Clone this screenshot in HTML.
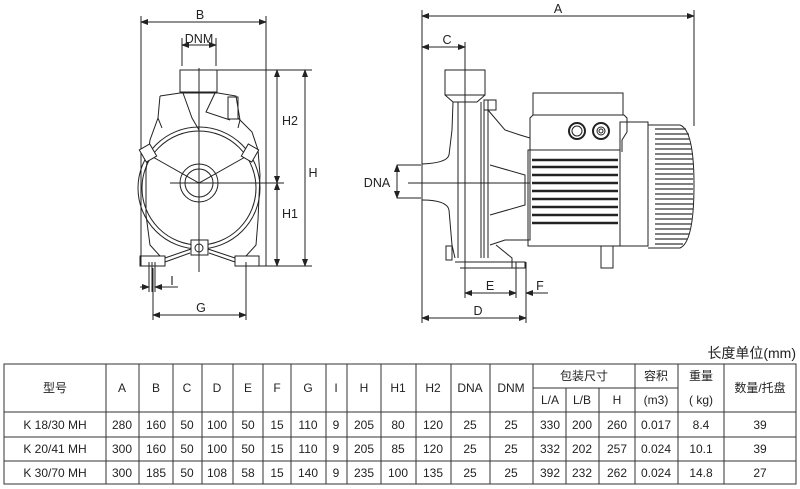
<!DOCTYPE html>
<html><head><meta charset="utf-8"><style>
body{margin:0;background:#fff;}
svg{display:block}
text{font-family:"Liberation Sans","Noto Sans CJK SC",sans-serif;fill:#222}
</style></head><body>
<svg width="800" height="489" viewBox="0 0 800 489" xmlns="http://www.w3.org/2000/svg">
<defs>
<marker id="ar" markerWidth="8" markerHeight="6" refX="7" refY="3" orient="auto-start-reverse" markerUnits="userSpaceOnUse"><path d="M0,0 L8,3 L0,6 z" fill="#222"/></marker>
</defs>
<g stroke="#222" stroke-width="1" fill="none">
<!-- LEFT VIEW -->
<line x1="141" y1="16" x2="141" y2="266"/>
<line x1="266" y1="16" x2="266" y2="266"/>
<line x1="141" y1="22" x2="266" y2="22" marker-start="url(#ar)" marker-end="url(#ar)"/>
<line x1="182" y1="38" x2="182" y2="66"/>
<line x1="216" y1="38" x2="216" y2="66"/>
<line x1="182" y1="45" x2="216" y2="45" marker-start="url(#ar)" marker-end="url(#ar)"/>
<rect x="180" y="70" width="37" height="22"/>
<path d="M160,96 L180,93 L218,93 L236,96 L240,120 L238,128"/>
<path d="M160,96 L158,118 L162,128"/>
<path d="M183,93 L192,118 L199,130 M215,93 L206,112 L230,120"/>
<rect x="228" y="97" width="10" height="22"/>
<path d="M158,118 L150,140 L146,170 L146,215 L150,245 L160,256 M238,118 L252,132 L258,150 L260,175 L258,220 L256,245 L246,256"/>
<circle cx="199" cy="188" r="61"/>
<circle cx="199" cy="188" r="57"/>
<circle cx="199" cy="183" r="19"/>
<circle cx="199" cy="183" r="14"/>
<path d="M144,152 L199,183 L254,152"/>
<rect x="142" y="146" width="12" height="14" transform="rotate(-30 148 153)" fill="#fff"/>
<rect x="244" y="146" width="12" height="14" transform="rotate(30 250 153)" fill="#fff"/>
<rect x="191" y="240" width="17" height="15" fill="#fff"/>
<circle cx="199" cy="248" r="4"/>
<path d="M165,258 L191,249 M208,249 L235,258 M165,262 L190,253 M209,253 L235,262"/>
<rect x="140" y="256" width="25" height="10"/>
<rect x="235" y="256" width="24" height="10"/>
<line x1="199" y1="68" x2="199" y2="272"/>
<line x1="170" y1="183" x2="284" y2="183"/>
<line x1="217" y1="70" x2="312" y2="70"/>
<line x1="258" y1="266" x2="312" y2="266"/>
<line x1="277" y1="70" x2="277" y2="183" marker-start="url(#ar)" marker-end="url(#ar)"/>
<line x1="277" y1="183" x2="277" y2="266" marker-start="url(#ar)" marker-end="url(#ar)"/>
<line x1="305" y1="70" x2="305" y2="266" marker-start="url(#ar)" marker-end="url(#ar)"/>
<line x1="149" y1="262" x2="149" y2="292"/><line x1="152" y1="262" x2="152" y2="292"/><line x1="155" y1="262" x2="155" y2="292"/>
<line x1="140" y1="287" x2="149" y2="287" marker-end="url(#ar)"/>
<line x1="178" y1="287" x2="155" y2="287" marker-end="url(#ar)"/>
<line x1="153" y1="268" x2="153" y2="320"/>
<line x1="246" y1="262" x2="246" y2="320"/>
<line x1="153" y1="315" x2="246" y2="315" marker-start="url(#ar)" marker-end="url(#ar)"/>

<!-- RIGHT VIEW -->
<line x1="422" y1="10" x2="422" y2="323"/>
<line x1="694" y1="10" x2="694" y2="126"/>
<line x1="422" y1="16" x2="694" y2="16" marker-start="url(#ar)" marker-end="url(#ar)"/>
<line x1="465" y1="42" x2="465" y2="102"/>
<line x1="422" y1="47" x2="465" y2="47" marker-start="url(#ar)" marker-end="url(#ar)"/>
<rect x="445" y="70" width="40" height="25"/>
<path d="M445,95 L453,102 L477,102 L485,95"/>
<path d="M453,102 L452,130 L449,155 Q447,163 422,164 M422,200 Q447,200 449,210 L452,245 L455,258"/>
<path d="M458,102 L458,258 M465,102 L465,258 M481,102 L481,258 M484,102 L484,258 M488,100 L488,258"/>
<rect x="484" y="100" width="12" height="10"/>
<rect x="446" y="246" width="6" height="14"/>
<path d="M488,110 L505,130 L520,135 L530,138 L530,240 L505,240 L490,245"/>
<path d="M490,165 L525,175 L525,205 L490,215"/>
<path d="M496,245 L512,258 L512,268 M455,262 L525,262 L525,268 L460,268"/>
<line x1="408" y1="183" x2="530" y2="183"/>
<!-- motor -->
<rect x="533" y="93" width="90" height="22"/>
<path d="M530,152 L530,118 L533,115 L624,115 L627,118 L627,132 L622,140 L622,152"/>
<circle cx="577" cy="131" r="8" stroke-width="2"/><circle cx="577" cy="131" r="5"/>
<circle cx="601" cy="131" r="8" stroke-width="2"/><circle cx="601" cy="131" r="4"/><circle cx="601" cy="131" r="2"/>
<rect x="528" y="150" width="92" height="96"/>
<rect x="620" y="122" width="28" height="124"/>
<path d="M648,125 L680,125 Q694,130 694,185 Q694,242 680,248 L648,248"/>
<rect x="601" y="246" width="12" height="22"/>
<line x1="397" y1="165" x2="421" y2="165"/>
<line x1="397" y1="198" x2="421" y2="198"/>
<line x1="397" y1="165" x2="397" y2="198" marker-start="url(#ar)" marker-end="url(#ar)"/>
<line x1="516" y1="262" x2="516" y2="298"/>
<line x1="526" y1="262" x2="526" y2="323"/>
<line x1="465" y1="258" x2="465" y2="298"/>
<line x1="465" y1="293" x2="516" y2="293" marker-start="url(#ar)" marker-end="url(#ar)"/>
<line x1="548" y1="293" x2="526" y2="293" marker-end="url(#ar)"/>
<line x1="422" y1="318" x2="526" y2="318" marker-start="url(#ar)" marker-end="url(#ar)"/>
</g>
<g stroke="#222" stroke-width="2.4">
<line x1="532" y1="160" x2="618" y2="160"/><line x1="532" y1="167" x2="618" y2="167"/>
<line x1="532" y1="175" x2="618" y2="175"/><line x1="532" y1="183" x2="618" y2="183"/>
<line x1="532" y1="191" x2="618" y2="191"/><line x1="532" y1="199" x2="618" y2="199"/>
<line x1="532" y1="207" x2="618" y2="207"/><line x1="532" y1="215" x2="618" y2="215"/>
<line x1="532" y1="223" x2="618" y2="223"/>
</g>
<g stroke="#333" stroke-width="1.3">
<line x1="655" y1="129" x2="686" y2="129"/><line x1="655" y1="134" x2="689" y2="134"/><line x1="655" y1="139" x2="690" y2="139"/>
<line x1="655" y1="144" x2="691" y2="144"/><line x1="655" y1="149" x2="692" y2="149"/><line x1="655" y1="154" x2="692" y2="154"/>
<line x1="655" y1="159" x2="693" y2="159"/><line x1="655" y1="164" x2="693" y2="164"/><line x1="655" y1="169" x2="693" y2="169"/>
<line x1="655" y1="174" x2="693" y2="174"/><line x1="655" y1="179" x2="693" y2="179"/><line x1="655" y1="184" x2="693" y2="184"/>
<line x1="655" y1="189" x2="693" y2="189"/><line x1="655" y1="194" x2="693" y2="194"/><line x1="655" y1="199" x2="693" y2="199"/>
<line x1="655" y1="204" x2="693" y2="204"/><line x1="655" y1="209" x2="693" y2="209"/><line x1="655" y1="214" x2="692" y2="214"/>
<line x1="655" y1="219" x2="692" y2="219"/><line x1="655" y1="224" x2="691" y2="224"/><line x1="655" y1="229" x2="690" y2="229"/>
<line x1="655" y1="234" x2="689" y2="234"/><line x1="655" y1="239" x2="687" y2="239"/><line x1="655" y1="244" x2="683" y2="244"/>
</g>
<g font-size="12.5" text-anchor="middle">
<text x="200" y="19">B</text>
<text x="199" y="43">DNM</text>
<text x="290" y="125">H2</text>
<text x="290" y="218">H1</text>
<text x="313" y="177">H</text>
<text x="172" y="285">I</text>
<text x="201" y="312">G</text>
<text x="558" y="13">A</text>
<text x="447" y="44">C</text>
<text x="377" y="187">DNA</text>
<text x="490" y="290">E</text>
<text x="540" y="290">F</text>
<text x="478" y="315">D</text>
</g>
<!-- TABLE -->
<text x="796" y="358" font-size="14" text-anchor="end">长度单位(mm)</text>
<g stroke="#333" stroke-width="1" fill="none">
<rect x="4" y="364" width="792" height="120"/>
<line x1="4" y1="412" x2="796" y2="412"/>
<line x1="4" y1="437" x2="796" y2="437"/>
<line x1="4" y1="461" x2="796" y2="461"/>
<line x1="533" y1="388" x2="678" y2="388"/>
<line x1="106" y1="364" x2="106" y2="484"/><line x1="139" y1="364" x2="139" y2="484"/>
<line x1="173" y1="364" x2="173" y2="484"/><line x1="202" y1="364" x2="202" y2="484"/>
<line x1="233" y1="364" x2="233" y2="484"/><line x1="263" y1="364" x2="263" y2="484"/>
<line x1="291" y1="364" x2="291" y2="484"/><line x1="326" y1="364" x2="326" y2="484"/>
<line x1="347" y1="364" x2="347" y2="484"/><line x1="381" y1="364" x2="381" y2="484"/>
<line x1="416" y1="364" x2="416" y2="484"/><line x1="451" y1="364" x2="451" y2="484"/>
<line x1="490" y1="364" x2="490" y2="484"/><line x1="533" y1="364" x2="533" y2="484"/>
<line x1="566" y1="388" x2="566" y2="484"/><line x1="599" y1="388" x2="599" y2="484"/>
<line x1="635" y1="364" x2="635" y2="484"/><line x1="678" y1="364" x2="678" y2="484"/>
<line x1="724" y1="364" x2="724" y2="484"/>
</g>
<g font-size="12" text-anchor="middle">
<text x="55" y="392">型号</text>
<text x="122" y="392">A</text><text x="156" y="392">B</text><text x="187" y="392">C</text>
<text x="217" y="392">D</text><text x="248" y="392">E</text><text x="277" y="392">F</text>
<text x="308" y="392">G</text><text x="336" y="392">I</text><text x="364" y="392">H</text>
<text x="398" y="392">H1</text><text x="433" y="392">H2</text><text x="470" y="392">DNA</text>
<text x="511" y="392">DNM</text>
<text x="584" y="380">包装尺寸</text>
<text x="550" y="404">L/A</text><text x="582" y="404">L/B</text><text x="617" y="404">H</text>
<text x="656" y="380">容积</text><text x="656" y="404">(m3)</text>
<text x="701" y="380">重量</text><text x="701" y="404">( kg)</text>
<text x="760" y="392">数量/托盘</text>

<text x="55" y="429">K 18/30 MH</text><text x="122" y="429">280</text><text x="156" y="429">160</text>
<text x="187" y="429">50</text><text x="217" y="429">100</text><text x="248" y="429">50</text>
<text x="277" y="429">15</text><text x="308" y="429">110</text><text x="336" y="429">9</text>
<text x="364" y="429">205</text><text x="398" y="429">80</text><text x="433" y="429">120</text>
<text x="470" y="429">25</text><text x="511" y="429">25</text><text x="550" y="429">330</text>
<text x="582" y="429">200</text><text x="617" y="429">260</text><text x="656" y="429">0.017</text>
<text x="701" y="429">8.4</text><text x="760" y="429">39</text>

<text x="55" y="453">K 20/41 MH</text><text x="122" y="453">300</text><text x="156" y="453">160</text>
<text x="187" y="453">50</text><text x="217" y="453">100</text><text x="248" y="453">50</text>
<text x="277" y="453">15</text><text x="308" y="453">110</text><text x="336" y="453">9</text>
<text x="364" y="453">205</text><text x="398" y="453">85</text><text x="433" y="453">120</text>
<text x="470" y="453">25</text><text x="511" y="453">25</text><text x="550" y="453">332</text>
<text x="582" y="453">202</text><text x="617" y="453">257</text><text x="656" y="453">0.024</text>
<text x="701" y="453">10.1</text><text x="760" y="453">39</text>

<text x="55" y="477">K 30/70 MH</text><text x="122" y="477">300</text><text x="156" y="477">185</text>
<text x="187" y="477">50</text><text x="217" y="477">108</text><text x="248" y="477">58</text>
<text x="277" y="477">15</text><text x="308" y="477">140</text><text x="336" y="477">9</text>
<text x="364" y="477">235</text><text x="398" y="477">100</text><text x="433" y="477">135</text>
<text x="470" y="477">25</text><text x="511" y="477">25</text><text x="550" y="477">392</text>
<text x="582" y="477">232</text><text x="617" y="477">262</text><text x="656" y="477">0.024</text>
<text x="701" y="477">14.8</text><text x="760" y="477">27</text>
</g>
</svg>
</body></html>
